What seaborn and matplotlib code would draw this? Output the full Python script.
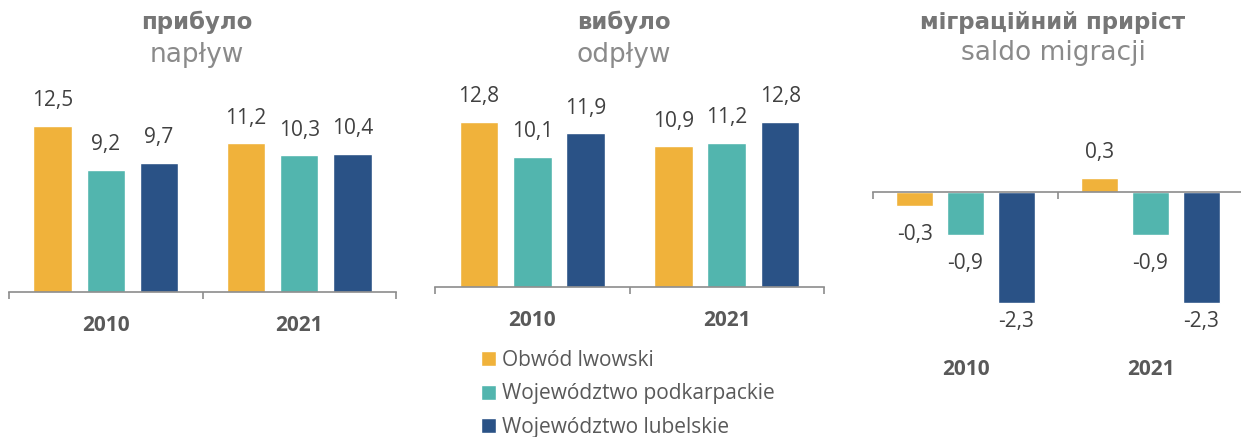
import matplotlib
matplotlib.use("Agg")
import matplotlib.pyplot as plt
import seaborn as sns
import pandas as pd
import numpy as np

# ---- data ----
years = ["2010", "2021"]
regions = ["Obwód lwowski", "Województwo podkarpackie", "Województwo lubelskie"]
inflow = {"Obwód lwowski": [12.5, 11.2],
          "Województwo podkarpackie": [9.2, 10.3],
          "Województwo lubelskie": [9.7, 10.4]}
outflow = {"Obwód lwowski": [12.8, 10.9],
           "Województwo podkarpackie": [10.1, 11.2],
           "Województwo lubelskie": [11.9, 12.8]}
balance = {"Obwód lwowski": [-0.3, 0.3],
           "Województwo podkarpackie": [-0.9, -0.9],
           "Województwo lubelskie": [-2.3, -2.3]}
titles_ua = ["прибуло", "вибуло", "міграційний приріст"]
titles_pl = ["napływ", "odpływ", "saldo migracji"]
colors = ["#F0B23B", "#52B5AE", "#2A5286"]

def to_df(d):
    rows = []
    for r in regions:
        for y, v in zip(years, d[r]):
            rows.append({"year": y, "region": r, "value": v})
    return pd.DataFrame(rows)

sns.set_theme(style="white")
plt.rcParams["font.family"] = ["Open Sans", "DejaVu Sans"]

W, H = 1241, 437
fig = plt.figure(figsize=(W / 100, H / 100), dpi=100)

def rect(left, right, top, bottom):
    return [left / W, 1 - bottom / H, (right - left) / W, (bottom - top) / H]

# (left, right, spine_y_px, px_per_unit, ylim)
specs = [
    (9, 396, 292, 13.3, (0, 16)),
    (435, 824, 287, 12.9, (0, 16)),
    (873, 1243, 192, 48.3, (-3, 2.5)),
]
datasets = [inflow, outflow, balance]
label_col = "#404040"
axis_col = "#8C8C8C"

axes = []
for i, ((l, r, sy, ppu, yl), d) in enumerate(zip(specs, datasets)):
    top = sy - yl[1] * ppu
    bottom = sy - yl[0] * ppu
    ax = fig.add_axes(rect(l, r, top, bottom))
    df = to_df(d)
    sns.barplot(data=df, x="year", y="value", hue="region", order=years,
                hue_order=regions, palette=colors, width=0.825, gap=0.28,
                saturation=1, ax=ax, legend=(i == 0), errorbar=None)
    ax.set_xlim(-0.5, 1.5)
    ax.set_ylim(*yl)
    for s in ["top", "right", "left"]:
        ax.spines[s].set_visible(False)
    ax.spines["bottom"].set_position(("data", 0))
    ax.spines["bottom"].set_color(axis_col)
    ax.spines["bottom"].set_linewidth(1.2)
    ax.set_yticks([])
    ax.set_xlabel("")
    ax.set_ylabel("")
    ax.set_xticks([-0.5, 0.5, 1.5])
    ax.set_xticklabels([])
    ax.tick_params(axis="x", which="major", direction="out", length=5,
                   width=1.2, color=axis_col, bottom=True)
    ax.set_xticks([0, 1], minor=True)
    pad = 16.5 if i < 2 else 120.5
    ax.set_xticklabels(years, minor=True, fontsize=15, fontweight="bold",
                       color="#595959")
    ax.tick_params(axis="x", which="minor", length=0, pad=pad)

    # value labels
    for cont in ax.containers:
        for p in cont.patches:
            v = p.get_height()
            x = p.get_x() + p.get_width() / 2
            txt = f"{v:.1f}".replace(".", ",")
            if v >= 0:
                ax.annotate(txt, (x, v), xytext=(0, 18), textcoords="offset points",
                            ha="center", va="center", fontsize=15, color=label_col)
            else:
                yl_ = max(v - 28 / ppu, -130 / ppu)
                ax.text(x, yl_, txt, ha="center", va="center", fontsize=15,
                        color=label_col)
    axes.append(ax)

# titles
title_pos = [(197, 22, 55), (624, 22, 55), (1053, 22, 53)]
for (cx, y1, y2), t1, t2 in zip(title_pos, titles_ua, titles_pl):
    fig.text(cx / W, 1 - y1 / H, t1, ha="center", va="center", fontsize=16.5,
             fontweight="bold", color="#767676", family="DejaVu Sans")
    fig.text(cx / W, 1 - y2 / H, t2, ha="center", va="center", fontsize=19,
             color="#8A8A8A", family="DejaVu Sans")

# legend
handles, labels = axes[0].get_legend_handles_labels()
axes[0].get_legend().remove()
fig.legend(handles, labels, loc="upper left", bbox_to_anchor=(481 / W, 1 - 350 / H),
           frameon=False, fontsize=15, handlelength=0.7, handleheight=0.7,
           handletextpad=0.3, labelspacing=0.6, borderaxespad=0, borderpad=0,
           labelcolor="#595959")

fig.savefig("out.png", dpi=100)
